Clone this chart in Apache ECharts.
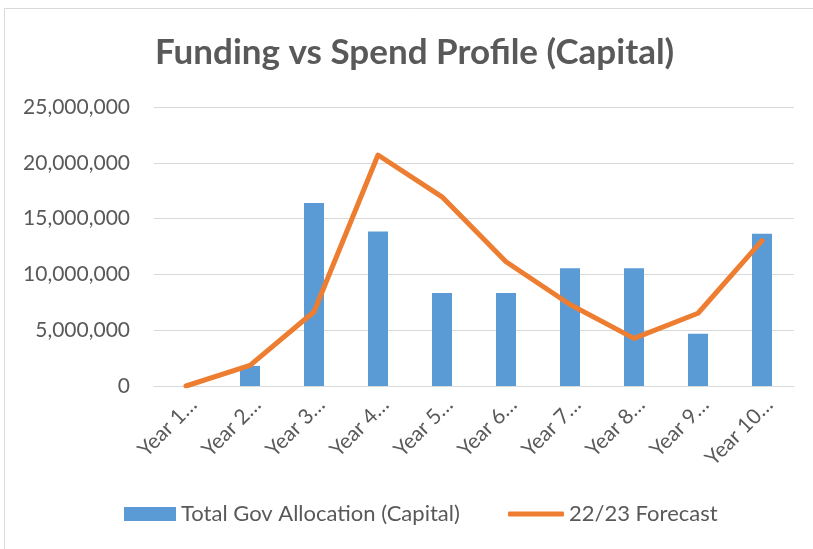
<!DOCTYPE html>
<html>
<head>
<meta charset="utf-8">
<script src="https://cdn.jsdelivr.net/npm/echarts@6/dist/echarts.min.js"></script>
<style>html,body{margin:0;padding:0;background:#fff}#c{width:813px;height:549px}</style>
</head>
<body>
<div id="c"></div>
<script>
const categories = ['Year 1…','Year 2…','Year 3…','Year 4…','Year 5…','Year 6…','Year 7…','Year 8…','Year 9…','Year 10…'];
const allocation = [0, 1800000, 16400000, 13850000, 8330000, 8330000, 10560000, 10560000, 4680000, 13640000];
const forecast = [0, 1850000, 6650000, 20700000, 16950000, 11130000, 7300000, 4270000, 6520000, 13020000];
const yTicks = [0, 5000000, 10000000, 15000000, 20000000, 25000000];

const chart = echarts.init(document.getElementById('c'), null, {renderer: 'canvas'});
const txt = '#595959';
const font = 'Lato';
chart.setOption({
  animation: false,
  backgroundColor: '#fff',
  graphic: [{
    type: 'rect', shape: {x: 4.5, y: 8.5, width: 900, height: 700},
    style: {fill: 'none', stroke: '#D9D9D9', lineWidth: 1}, silent: true
  }],
  title: {
    text: 'Funding vs Spend Profile (Capital)',
    left: 150, top: 30,
    textStyle: {fontFamily: font, fontWeight: 'bold', fontSize: 35, color: txt}
  },
  legend: [{
    left: 124, top: 503, padding: 0,
    itemWidth: 52, itemHeight: 14,
    textStyle: {fontFamily: font, fontSize: 22, color: txt},
    data: [{name: 'Total Gov Allocation (Capital)', icon: 'rect'}]
  }, {
    left: 508, top: 503, padding: 0,
    itemWidth: 56, itemHeight: 5,
    textStyle: {fontFamily: font, fontSize: 22, color: txt},
    data: [{name: '22/23 Forecast', icon: 'roundRect'}]
  }],
  grid: {left: 154, right: 19, top: 107, bottom: 163, containLabel: false},
  xAxis: {
    type: 'category', data: categories,
    axisLine: {lineStyle: {color: '#D9D9D9', width: 1}},
    axisTick: {show: false},
    axisLabel: {rotate: 45, color: txt, fontFamily: font, fontSize: 21, margin: 8, interval: 0,
      align: 'right', verticalAlign: 'top'}
  },
  yAxis: {
    type: 'value', min: 0, max: 25000000, interval: 5000000,
    axisLine: {show: false}, axisTick: {show: false},
    splitLine: {lineStyle: {color: '#D9D9D9', width: 1}},
    axisLabel: {
      color: txt, fontFamily: font, fontSize: 21, margin: 24,
      formatter: v => yTicks.includes(v) ? v.toLocaleString('en-US') : ''
    }
  },
  series: [
    {
      name: 'Total Gov Allocation (Capital)', type: 'bar', data: allocation,
      barWidth: 20, itemStyle: {color: '#5B9BD5'}
    },
    {
      name: '22/23 Forecast', type: 'line', data: forecast,
      symbol: 'none', smooth: false,
      lineStyle: {color: '#ED7D31', width: 5, cap: 'round', join: 'round'},
      itemStyle: {color: '#ED7D31'}
    }
  ]
});
</script>
</body>
</html>
